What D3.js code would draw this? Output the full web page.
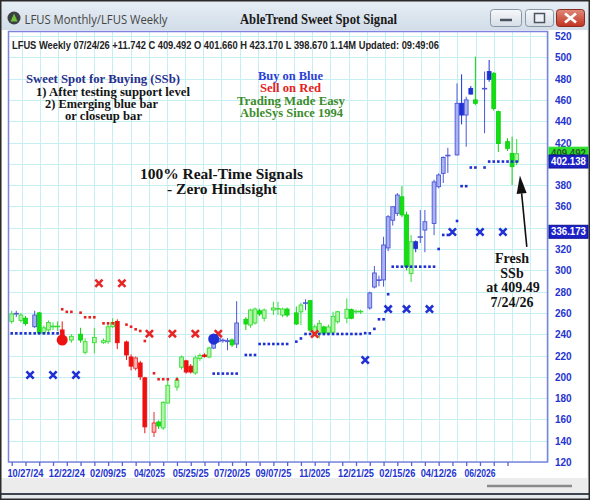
<!DOCTYPE html>
<html><head><meta charset="utf-8">
<script src="https://cdn.jsdelivr.net/npm/d3@7"></script>
<style>body{margin:0;background:#fff}svg{display:block}</style>
</head><body><svg id="c" width="590" height="500"></svg>
<script>
// ---------------- DATA ----------------
const symbol = "LFUS";
const headerText = "LFUS  Weekly 07/24/26 +11.742 C 409.492 O 401.660 H 423.170 L 398.670 1.14M Updated: 09:49:06";
// weekly candles, index 0..110 (null = no bar drawn)
const open = [252,259,253,255,null,247,260,241,244,247, 247,244,null,234.5,null,240,223,null,232,null,
  232,233,247,252,null,232.7,218.6,208,213,199, null,148,157.6,152,175.4,null,190.4,209,215,210,
  203.6,217,220.5,218.6,227,233,234,233,234.6,230.8, null,254,248.6,250.5,262,255,null,262.7,263.6,258,
  263.6,null,260,261,269,271.5,239.2,240.8,246.8,241, 241.8,251.7,null,255,263,261,261,null,264.6,284.3,
  290.5,291,321,347,353.5,369,352,297,326.8,331, 337.8,null,344,378.5,391,407.5,null,408.3,456.8,445.8,
  470.8,460,null,470.3,486.6,485,449,null,420.8,409.8,401.66];
const high = [262,262,260,257,null,262,261,248,253,251, 252,252,null,240,null,246,236,null,246,null,
  236,251,255,254,null,234,221,219,215,200, null,167,159,177,197,null,200,220,216,212,
  220,222,222,228.3,232,237,236,236.4,236,271, null,256,264,265,264,264,null,270.5,270.5,265,
  265,null,266,269.6,272.8,271.5,249,253.3,248,249, 261.1,262,null,273.6,264,263,263,null,280,304,
  295,331.5,351.8,359.7,372.5,379,355,333,328,356.6, 356.6,null,385,391,407,415,null,475.5,484,463,
  473,500.6,null,486.6,497.5,486,450,null,424,425.5,423.17];
const low = [250,256,251,248,null,246,240,240,242,244, 243,234,null,232,null,232,221,null,222,null,
  231,231,246,226,null,215.8,206,206,197,147, null,143.5,151,150,175,null,187,207,203,203,
  202,215,218,217.4,226,232,232,225,228,227, null,244,246,249,257,252,null,258,258,256,
  256,null,248.6,248.6,262.7,242,238,236,239,239, 239.2,250,null,250.2,254,259,259,null,263,283,
  285,284.6,318,342,351,350,300,289,317,325.6, 317,null,333,377,382,391.4,null,408,437,416,
  465,455,null,428.7,477,450,411,null,412,380,398.67];
const close = [259,259.5,258,250,null,258,241,246,251,247.5, 247.5,236,null,238,null,234.5,233,null,237,null,
  234,247,251,232,null,220.5,210,217.7,200,153, null,156.6,153.8,176,192,null,197,218.6,204.5,204.5,
  217.7,220,219,227,230.8,236,234.3,234,230,250.5, null,249.6,262.7,263.6,259,262.7,null,264.6,264,263.6,
  258,null,249.6,267.4,269.5,243.9,247,250.2,241,246.8, 256.8,261.1,null,263.4,255,261.5,261.5,null,278.7,297.5,
  291,323.8,350.3,359.7,370.7,352,303.4,326.8,320.6,331.5, 345.6,null,383,389.5,406,408,null,456.8,445.8,460,
  465.5,456.8,null,470.8,479.3,452,419,null,414.5,397.3,409.49];
// bar colour: b = blue (buy), g = green (neutral), r = red (sell)
const barColor = ["g","b","g","g",null,"b","g","g","g","g", "g","r",null,"g",null,"g","g",null,"g",null,
  "g","g","g","r",null,"r","r","r","r","r", null,"r","g","g","g",null,"g","g","r","r",
  "g","g","r","g","b","b","b","b","g","b", null,"g","g","g","g","g",null,"g","g","g",
  "g",null,"g","g","b","g","g","g","g","g", "g","g",null,"g","g","g","g",null,"b","b",
  "b","b","b","b","b","g","g","g","b","b", "b",null,"b","b","b","b",null,"b","b","b",
  "b","g",null,"b","b","g","g",null,"g","g","g"];
// stop dots [index, value]
const stopBlue = [[0,240.8],[1,240.8],[2,240.8],[3,240.8],[4,240.8],[5,240.8],[6,240.8],[7,240.8],[8,240.8],[9,240.8],[10,240.8],
  [44,203],[45,203],[46,203],[47,203],[48,203],[49,203],[51,220.5],[52,220.5],[53,220.5],
  [54,230.8],[55,230.8],[56,230.8],[57,230.8],[58,230.8],[59,230.8],[60,230.8],[62,233],[63,236],
  [64,240.2],[65,240.2],[66,240.2],[67,240.2],[68,240.2],[69,240.2],[70,240.2],[71,240.2],[72,240.2],[73,240.2],[74,240.2],[75,240.2],[76,240.2],
  [77,241],[78,240.8],[79,245],[80,254],[81,254],[82,277.5],
  [83,303.4],[84,303.4],[85,303.4],[86,303.4],[87,303.4],[88,303.4],[89,303.4],[90,303.4],[91,303.4],[92,303.4],
  [93,320],[94,333.2],[95,333.2],[97,346.3],[98,379],[99,379],[100,396.5],[101,396.5],[103,396.5],
  [104,402.1],[105,402.1],[106,402.1],[107,402.1],[108,402.1],[109,402.1],[110,402.1]];
const stopRed = [[11,263.4],[12,261],[13,261],[15,260.2],[16,255.9],[17,255.9],[18,255.9],[20,250.2],[21,250.2],[22,250.2],
  [25,249],[26,247],[27,244.6],[28,243],[29,233.6],[31,203.3],[32,197.7],[33,197.7],[34,197.7],[36,197.7]];
const crossRed = [[19,287.8],[24,287.8],[30,240.5],[35,240.5],[40,240.5],[45,240.5],[66,240.2]];
const crossBlue = [[4,201.7],[9,201.7],[14,201.7],[77,215.8],[82,263.6],[86,263.6],[91,263.6],[96,336],[102,336],[107,336]];
const signalRed = [[11,234.5]];
const signalBlue = [[44,235.5]];
const yTickValues = [520,500,480,460,440,420,380,360,320,300,280,260,240,220,200,180,160,140,120];
const priceTags = [{v:409.492,label:"409.492",kind:"g"},{v:402.138,label:"402.138",kind:"b"},{v:336.173,label:"336.173",kind:"b"}];
const xLabels = ["10/27/24","12/22/24","02/09/25","04/2025","05/25/25","07/20/25","09/07/25","11/2025","12/21/25","02/15/26","04/12/26","06/2026"];
const xLabelIdx = [3,12,21,30,39,48,57,66,75,84,93,102];
const arrowFrom = [112.2,322], arrowTo = [110.7,389];

// ---------------- SETUP ----------------
const svg = d3.select("#c");
const W = 590, H = 500;
const plot = {l:8.5, r:547.5, t:31.5, b:462};
const x = d3.scaleLinear().domain([0,110]).range([11.7,516.7]);
const y = d3.scaleLinear().domain([120,520]).range([462,36]);

const defs = svg.append("defs");
const tg = defs.append("linearGradient").attr("id","tb").attr("x1",0).attr("y1",0).attr("x2",0).attr("y2",1);
tg.append("stop").attr("offset","0").attr("stop-color","#e7eef5");
tg.append("stop").attr("offset","1").attr("stop-color","#d2dde8");
const bg = defs.append("linearGradient").attr("id","btn").attr("x1",0).attr("y1",0).attr("x2",0).attr("y2",1);
bg.append("stop").attr("offset","0").attr("stop-color","#f7f9fb");
bg.append("stop").attr("offset","1").attr("stop-color","#d6dde5");
const cg = defs.append("linearGradient").attr("id","cls").attr("x1",0).attr("y1",0).attr("x2",0).attr("y2",1);
cg.append("stop").attr("offset","0").attr("stop-color","#e08a7c");
cg.append("stop").attr("offset","1").attr("stop-color","#c2321f");

// window chrome
svg.append("rect").attr("width",W).attr("height",H).attr("fill","#f0f0f0");
svg.append("rect").attr("x",0).attr("y",0).attr("width",W).attr("height",30).attr("fill","url(#tb)");
svg.append("rect").attr("x",2).attr("y",30).attr("width",585).attr("height",448).attr("fill","#fff");
svg.append("rect").attr("x",2).attr("y",478).attr("width",585).attr("height",15).attr("fill","#ececec");
svg.append("line").attr("x1",487).attr("x2",572).attr("y1",486).attr("y2",486).attr("stroke","#8a8a8a").attr("stroke-width",2.5);
svg.append("line").attr("x1",0).attr("x2",W).attr("y1",494).attr("y2",494).attr("stroke","#3d4650").attr("stroke-width",2);
svg.append("rect").attr("x",0).attr("y",495).attr("width",W).attr("height",5).attr("fill","#e6e9ec");
svg.append("rect").attr("x",0.75).attr("y",0.75).attr("width",W-1.5).attr("height",H-1.5).attr("fill","none").attr("stroke","#2a2a2a").attr("stroke-width",1.5);

// icon
svg.append("circle").attr("cx",14).attr("cy",18).attr("r",6.5).attr("fill","#3b3f44");
svg.append("path").attr("d","M10.5,21.5 L14,13.5 L17.5,21.5 Z").attr("fill","#6fc23a");
svg.append("text").attr("x",24.5).attr("y",23.5).attr("font-family","'Open Sans',sans-serif").attr("font-size",12.5)
  .attr("fill","#444").attr("textLength",143).attr("lengthAdjust","spacingAndGlyphs").text(symbol+" Monthly/"+symbol+" Weekly");
svg.append("text").attr("x",318.5).attr("y",23.5).attr("text-anchor","middle").attr("font-family","'Liberation Serif',serif")
  .attr("font-weight","bold").attr("font-size",14).attr("fill","#1a1a1a").attr("textLength",157).attr("lengthAdjust","spacingAndGlyphs")
  .text("AbleTrend Sweet Spot Signal");
// buttons
svg.append("rect").attr("x",490.5).attr("y",9.5).attr("width",31).attr("height",17).attr("rx",3).attr("fill","url(#btn)").attr("stroke","#8896a6");
svg.append("line").attr("x1",500).attr("x2",512).attr("y1",20).attr("y2",20).attr("stroke","#4a5360").attr("stroke-width",2.5);
svg.append("rect").attr("x",525.5).attr("y",9.5).attr("width",28).attr("height",17).attr("rx",3).attr("fill","url(#btn)").attr("stroke","#8896a6");
svg.append("rect").attr("x",534.5).attr("y",13.5).attr("width",10).attr("height",9).attr("fill","#eef2f6").attr("stroke","#4a5360").attr("stroke-width",1.5);
svg.append("rect").attr("x",556.5).attr("y",9.5).attr("width",28).attr("height",17).attr("rx",3).attr("fill","url(#cls)").attr("stroke","#8a2e22");
svg.append("path").attr("d","M565,13.5 L576,22.5 M576,13.5 L565,22.5").attr("stroke","#fff").attr("stroke-width",2.8);

// grid
const g = svg.append("g");
const hGrid = d3.range(120,521,20);
g.selectAll("line.hg").data(hGrid).join("line").attr("class","hg")
  .attr("x1",plot.l).attr("x2",plot.r).attr("y1",d=>Math.round(y(d))+0.5).attr("y2",d=>Math.round(y(d))+0.5)
  .attr("stroke","#c6eff4").attr("stroke-width",1);
const vGrid = d3.range(2.18,117,3.955);
g.selectAll("line.vg").data(vGrid).join("line").attr("class","vg")
  .attr("x1",d=>Math.round(x(d))+0.5).attr("x2",d=>Math.round(x(d))+0.5).attr("y1",plot.t).attr("y2",plot.b)
  .attr("stroke","#c6eff4").attr("stroke-width",1);

// plot border
svg.append("rect").attr("x",plot.l).attr("y",plot.t).attr("width",plot.r-plot.l).attr("height",plot.b-plot.t)
  .attr("fill","none").attr("stroke","#7e84de").attr("stroke-width",1.5);

// header text
svg.append("text").attr("x",12).attr("y",48.5).attr("font-family","'Liberation Sans',Arial,sans-serif").attr("font-weight","bold")
  .attr("font-size",10).attr("fill","#222").attr("textLength",427).attr("lengthAdjust","spacingAndGlyphs").text(headerText);

// y axis labels
const yAxis = d3.axisRight(y).tickValues(yTickValues).tickSize(0).tickPadding(0).tickFormat(d3.format("d"));
const ya = svg.append("g").attr("transform","translate(555,0)").call(yAxis);
ya.select(".domain").remove();
ya.selectAll("text").attr("font-family","'Liberation Sans',Arial,sans-serif").attr("font-weight","bold")
  .attr("font-size",10).attr("fill","#2434cf").attr("dy","0.35em").attr("x",0);

// x axis
const xTicks = d3.range(0,109,3);
const xAxis = d3.axisBottom(x).tickValues(xTicks).tickSize(4).tickFormat("");
const xa = svg.append("g").attr("transform",`translate(0,${plot.b})`).call(xAxis);
xa.select(".domain").remove();
xa.selectAll("line").attr("stroke","#5a64d6").attr("stroke-width",1.3);
const xl = svg.append("g");
xl.selectAll("text").data(xLabels).join("text")
  .attr("x",(d,i)=>x(xLabelIdx[i])).attr("y",477).attr("text-anchor","middle")
  .attr("font-family","'Liberation Sans',Arial,sans-serif").attr("font-weight","bold").attr("font-size",10)
  .attr("fill","#2434cf").attr("textLength",d=>d.length===8?36:31).attr("lengthAdjust","spacingAndGlyphs").text(d=>d);

// candles
const pal = {
  b:{up:["#aab2f2","#4b56d8"], dn:["#1f30d4","#1f30d4"]},
  g:{up:["#b2f5a6","#38dc38"], dn:["#12e012","#10d010"]},
  r:{up:["#f8b8b8","#e83030"], dn:["#ee1111","#ee1111"]}
};
const bars = d3.range(open.length).filter(i=>open[i]!==null).map(i=>({i,o:open[i],h:high[i],l:low[i],c:close[i],k:barColor[i]}));
const cg2 = svg.append("g");
bars.forEach(d=>{
  const cx = x(d.i);
  const up = d.c >= d.o;
  const [fill,stroke] = pal[d.k][up?"up":"dn"];
  cg2.append("line").attr("x1",cx).attr("x2",cx).attr("y1",y(d.h)).attr("y2",y(d.l)).attr("stroke",stroke).attr("stroke-width",1);
  if (Math.abs(d.c-d.o) < 1) {
    cg2.append("line").attr("x1",cx-2.6).attr("x2",cx+2.6).attr("y1",y((d.o+d.c)/2)).attr("y2",y((d.o+d.c)/2))
      .attr("stroke",stroke).attr("stroke-width",1.6);
  } else {
    const top = y(Math.max(d.o,d.c)), bot = y(Math.min(d.o,d.c));
    cg2.append("rect").attr("x",cx-1.9).attr("y",top).attr("width",3.8).attr("height",bot-top)
      .attr("fill",fill).attr("stroke",stroke).attr("stroke-width",0.9);
  }
});

// stop dots
svg.selectAll("rect.sb").data(stopBlue).join("rect").attr("class","sb")
  .attr("x",d=>x(d[0])-1.3).attr("y",d=>y(d[1])-1.3).attr("width",2.6).attr("height",2.6).attr("fill","#1f2fd0");
svg.selectAll("rect.sr").data(stopRed).join("rect").attr("class","sr")
  .attr("x",d=>x(d[0])-1.3).attr("y",d=>y(d[1])-1.3).attr("width",2.6).attr("height",2.6).attr("fill","#e82020");

// cross markers
function crosses(data,color,cls){
  svg.selectAll("path."+cls).data(data).join("path").attr("class",cls)
    .attr("d",d=>{const cx=x(d[0]),cy=y(d[1]),s=3.6;return `M${cx-s},${cy-s}L${cx+s},${cy+s}M${cx+s},${cy-s}L${cx-s},${cy+s}`;})
    .attr("stroke",color).attr("stroke-width",2.6).attr("fill","none");
}
crosses(crossRed,"#e82626","xr");
crosses(crossBlue,"#1f30d4","xb");

// signal circles
svg.selectAll("circle.sigr").data(signalRed).join("circle").attr("class","sigr")
  .attr("cx",d=>x(d[0])).attr("cy",d=>y(d[1])).attr("r",5.5).attr("fill","#ee1111");
svg.selectAll("circle.sigb").data(signalBlue).join("circle").attr("class","sigb")
  .attr("cx",d=>x(d[0])).attr("cy",d=>y(d[1])).attr("r",5.5).attr("fill","#1f30d4");

// price tags
priceTags.forEach(t=>{
  const cy = y(t.v);
  svg.append("rect").attr("x",549).attr("y",cy-6.5).attr("width",39).attr("height",13)
    .attr("fill",t.kind==="g"?"#2be02b":"#1c22c8").attr("stroke",t.kind==="g"?"#2be02b":"#0d1290");
  svg.append("text").attr("x",551).attr("y",cy).attr("dy","0.35em").attr("font-family","'Liberation Sans',Arial,sans-serif")
    .attr("font-weight","bold").attr("font-size",10).attr("fill",t.kind==="g"?"#2a5a2a":"#fff")
    .attr("textLength",35).attr("lengthAdjust","spacingAndGlyphs").text(t.label);
});

// annotations
function note(txt,cx,by,size,color,len){
  const t = svg.append("text").attr("x",cx).attr("y",by).attr("text-anchor","middle")
    .attr("font-family","'Liberation Serif','Times New Roman',serif").attr("font-weight","bold")
    .attr("font-size",size).attr("fill",color).text(txt);
  if (len) t.attr("textLength",len).attr("lengthAdjust","spacingAndGlyphs");
}
note("Sweet Spot for Buying (SSb)",103,82.5,13,"#28308c",154);
note("1) After testing support level",113,95.5,12.5,"#141414",154);
note("2) Emerging blue bar",101.5,107.5,12.5,"#141414",113);
note("or closeup bar",103.5,119.5,12.5,"#141414",77);
note("Buy on Blue",290.5,79.5,13,"#2a3fd6",65);
note("Sell on Red",290.5,92,13,"#e52222",61);
note("Trading Made Easy",291,104.5,13,"#3c8c2c",108);
note("AbleSys Since 1994",291.5,117,13,"#3c8c2c",103);
note("100% Real-Time Signals",221.5,178.5,15.5,"#141414",163);
note("- Zero Hindsight",222,193.5,15.5,"#141414",110);
note("Fresh",512,263,14,"#141414");
note("SSb",512,278,14,"#141414");
note("at 409.49",513,291.5,14,"#141414");
note("7/24/26",512,306.5,14,"#141414");

// arrow
const ax1=x(arrowFrom[0]), ay1=y(arrowFrom[1]), ax2=x(arrowTo[0]), ay2=y(arrowTo[1]);
const ang = Math.atan2(ay2-ay1, ax2-ax1);
const hl = 18, hw = 5;
const bx = ax2 - hl*Math.cos(ang), by = ay2 - hl*Math.sin(ang);
svg.append("line").attr("x1",ax1).attr("y1",ay1).attr("x2",bx).attr("y2",by).attr("stroke","#111").attr("stroke-width",1.6);
svg.append("path").attr("d",`M${ax2},${ay2}L${bx+hw*Math.sin(ang)},${by-hw*Math.cos(ang)}L${bx-hw*Math.sin(ang)},${by+hw*Math.cos(ang)}Z`).attr("fill","#111");
</script></body></html>
